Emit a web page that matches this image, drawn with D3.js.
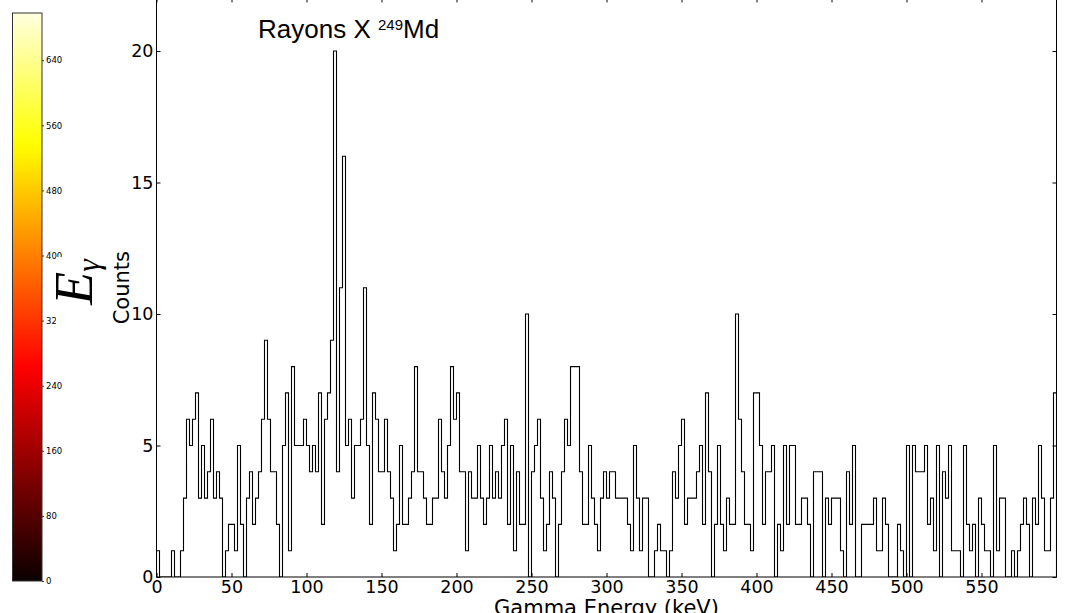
<!DOCTYPE html>
<html><head><meta charset="utf-8">
<script src="https://cdn.jsdelivr.net/npm/d3@7"></script>
<style>body{margin:0;background:#fff}svg{display:block}</style>
</head><body><svg id="c" width="1077" height="613"></svg>
<script>
// ---- data ----
const binWidth = 2; // keV
const counts = [
  1,0,0,0,0,1,0,0,1,3,
  6,5,6,7,3,5,3,4,6,3,
  4,3,0,1,2,2,1,5,2,0,
  3,4,2,3,4,6,9,6,4,4,
  2,0,5,7,1,8,5,5,5,6,
  5,4,5,4,7,2,6,7,9,20,
  4,11,16,5,6,3,5,5,6,11,
  5,2,7,6,4,4,6,4,3,1,
  2,5,2,2,3,4,8,4,4,3,
  2,2,3,3,6,4,3,5,8,6,
  7,4,4,1,4,3,3,5,3,2,
  3,5,3,4,3,5,6,2,5,1,
  4,2,2,10,0,4,5,6,3,1,
  2,4,3,0,2,4,6,5,8,8,
  8,4,2,2,5,3,2,1,3,4,
  3,4,4,3,3,3,3,2,1,5,
  3,1,3,3,0,0,1,2,1,1,
  0,1,4,3,5,6,2,3,3,3,
  4,5,2,7,4,0,2,5,2,1,
  3,2,2,10,6,4,2,2,1,7,
  7,5,2,4,4,5,0,2,1,5,
  2,5,5,2,2,3,3,2,0,4,
  4,4,0,3,2,3,3,3,1,0,
  4,2,5,0,0,2,2,2,2,3,
  1,1,3,2,0,0,0,2,1,0,
  5,0,5,4,4,4,5,2,3,1,
  5,0,4,3,5,1,1,1,0,5,
  2,1,2,0,3,2,1,1,0,5,
  1,3,3,0,0,1,0,1,2,3,
  2,0,3,2,5,3,1,1,3,7
];
const xDomain = [0, 600];
const yDomain = [0, 22];
const xTicks = [0,50,100,150,200,250,300,350,400,450,500,550];
const yTicks = [0,5,10,15,20];
const cbarTicks = [0,80,160,240,320,400,480,560,640];
const cbarDomain = [0, 698];
const cmapMax = 720;
const titleMain = "Rayons X ";
const titleSup = "249";
const titleEnd = "Md";
const xLabel = "Gamma Energy (keV)";
const yLabel = "Counts";

// ---- drawing ----
const svg = d3.select("#c");
svg.append("rect").attr("width",1077).attr("height",613).attr("fill","#fff");

const L = 156.5, R = 1056.5, B = 577, T = -1.6;
const x = d3.scaleLinear().domain(xDomain).range([L, R]);
const y = d3.scaleLinear().domain(yDomain).range([B, T]);

// colorbar
function hot(t){
  const r = Math.min(1, 0.0416 + t/0.365079*(1-0.0416));
  const g = Math.max(0, Math.min(1, (t-0.365079)/(0.746032-0.365079)));
  const b = Math.max(0, Math.min(1, (t-0.746032)/(1-0.746032)));
  return d3.rgb(r*255, g*255, b*255).toString();
}
const defs = svg.append("defs");
const grad = defs.append("linearGradient").attr("id","hot").attr("x1",0).attr("y1",1).attr("x2",0).attr("y2",0);
d3.range(0, 1.0001, 0.02).forEach(f => {
  const v = cbarDomain[0] + f*(cbarDomain[1]-cbarDomain[0]);
  grad.append("stop").attr("offset", f).attr("stop-color", hot(v/cmapMax));
});
const cy = d3.scaleLinear().domain(cbarDomain).range([581, 13]);
svg.append("rect").attr("x",12.5).attr("y",13).attr("width",29.5).attr("height",568)
  .attr("fill","url(#hot)").attr("stroke","#333").attr("stroke-width",1);
const cax = svg.append("g").attr("transform","translate(42,0)")
  .call(d3.axisRight(cy).tickValues(cbarTicks).tickSize(2).tickPadding(2).tickFormat(d3.format("d")));
cax.select(".domain").remove();
cax.selectAll("text").attr("font-family","DejaVu Sans").attr("font-size","8.5px").attr("fill","#000");
cax.selectAll("line").attr("stroke","#333");

// E_gamma label with white box
svg.append("rect").attr("x",56).attr("y",257).attr("width",40).attr("height",68).attr("fill","#fff");
const eg = svg.append("text").attr("transform","translate(92,282) rotate(-90)")
  .attr("text-anchor","middle").attr("font-family","Liberation Serif").attr("font-style","italic")
  .attr("font-size","54px").attr("fill","#000");
eg.append("tspan").text("E");
eg.append("tspan").attr("font-size","32px").attr("dy","7").text("γ");

// clip
defs.append("clipPath").attr("id","plot").append("rect")
  .attr("x",L).attr("y",T).attr("width",R-L).attr("height",B-T);

// histogram step outline
const pts = [[xDomain[0],0]];
counts.forEach((c,i)=>{ pts.push([i*binWidth,c]); pts.push([(i+1)*binWidth,c]); });
pts.push([xDomain[0]+counts.length*binWidth,0]);
const line = d3.line().x(d=>x(d[0])).y(d=>y(d[1]));
svg.append("path").attr("clip-path","url(#plot)").attr("d",line(pts))
  .attr("fill","none").attr("stroke","#000").attr("stroke-width",1.1);

// axes
function style(g){
  g.select(".domain").remove();
  g.selectAll("line").attr("stroke","#000");
  g.selectAll("text").attr("font-family","DejaVu Sans").attr("font-size","17.5px").attr("fill","#000");
}
svg.append("g").attr("transform",`translate(0,${B})`)
  .call(d3.axisBottom(x).tickValues(xTicks).tickSize(-4).tickPadding(4)).call(style);
svg.append("g").attr("transform",`translate(0,${T})`)
  .call(d3.axisTop(x).tickValues(xTicks).tickSize(-4).tickFormat("")).call(style);
svg.append("g").attr("transform",`translate(${L},0)`)
  .call(d3.axisLeft(y).tickValues(yTicks).tickSize(-4).tickPadding(3)).call(style);
svg.append("g").attr("transform",`translate(${R},0)`)
  .call(d3.axisRight(y).tickValues(yTicks).tickSize(-4).tickFormat("")).call(style);

// frame
svg.append("rect").attr("x",L).attr("y",T).attr("width",R-L).attr("height",B-T)
  .attr("fill","none").attr("stroke","#000").attr("stroke-width",1);

// labels
svg.append("text").attr("transform",`translate(129,${(B+T)/2}) rotate(-90)`)
  .attr("text-anchor","middle").attr("font-family","DejaVu Sans").attr("font-size","21px").text(yLabel);
svg.append("text").attr("x",(L+R)/2).attr("y",615).attr("text-anchor","middle")
  .attr("font-family","DejaVu Sans").attr("font-size","21px").text(xLabel);

// title
const tt = svg.append("text").attr("x",258).attr("y",38)
  .attr("font-family","Liberation Sans").attr("font-size","26px").attr("fill","#000");
tt.append("tspan").text(titleMain);
tt.append("tspan").attr("font-size","15px").attr("dy","-8").text(titleSup);
tt.append("tspan").attr("dy","8").text(titleEnd);
</script>
</body></html>
